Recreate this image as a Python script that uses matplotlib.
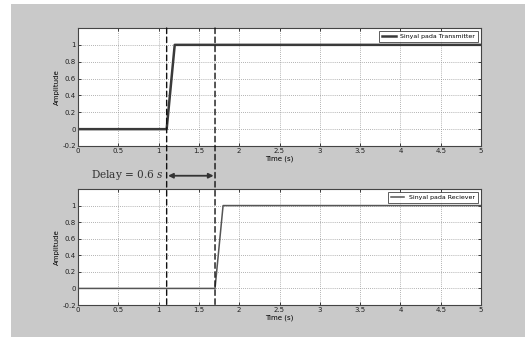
import matplotlib.pyplot as plt
from matplotlib.patches import Rectangle, ConnectionPatch

# step signals (time in s, amplitude)
t_tx = [0, 1.1, 1.2, 5]
amp_tx = [0, 0, 1, 1]
t_rx = [0, 1.7, 1.8, 5]
amp_rx = [0, 0, 1, 1]
delay_marks = [1.1, 1.7]
delay_value = 0.6

xticks = [0, 0.5, 1, 1.5, 2, 2.5, 3, 3.5, 4, 4.5, 5]
xtick_labels = ['0', '0.5', '1', '1.5', '2', '2.5', '3', '3.5', '4', '4.5', '5']
yticks = [-0.2, 0, 0.2, 0.4, 0.6, 0.8, 1]
ytick_labels = ['-0.2', '0', '0.2', '0.4', '0.6', '0.8', '1']

plt.rcParams['mathtext.fontset'] = 'dejavuserif'

fig = plt.figure(figsize=(5.25, 3.38), dpi=100)
fig.patch.set_facecolor('white')
fig.add_artist(Rectangle((11 / 525, 1 / 338), 1 - 11 / 525, 333 / 338,
                         transform=fig.transFigure, facecolor='#c9c9c9',
                         edgecolor='none', zorder=0))

ax1 = fig.add_axes([78 / 525, 192 / 338, 403 / 525, 118 / 338])
ax2 = fig.add_axes([78 / 525, 33 / 338, 403 / 525, 116 / 338])


def style_axes(ax):
    ax.set_xlim(0, 5)
    ax.set_ylim(-0.2, 1.2)
    ax.set_xticks(xticks)
    ax.set_xticklabels(xtick_labels)
    ax.set_yticks(yticks)
    ax.set_yticklabels(ytick_labels)
    ax.tick_params(direction='in', length=2.5, width=0.6, labelsize=5,
                   top=True, right=True, pad=1.5, colors='#222222')
    ax.grid(True, linestyle=(0, (1, 1.5)), color='#999999', linewidth=0.6)
    for s in ax.spines.values():
        s.set_color('#444444')
        s.set_linewidth(0.8)
    ax.set_xlabel('Time (s)', fontsize=5, labelpad=1)
    ax.set_ylabel('Amplitude', fontsize=5, labelpad=2)
    ax.set_facecolor('white')


ax1.plot(t_tx, amp_tx, color='#3a3a3a', linewidth=1.8, label='Sinyal pada Transmitter')
ax2.plot(t_rx, amp_rx, color='#555555', linewidth=1.1, label='Sinyal pada Reciever')
for ax in (ax1, ax2):
    style_axes(ax)
    leg = ax.legend(loc='upper right', fontsize=4.5, frameon=True, fancybox=False,
                    borderpad=0.4, handlelength=2.2, borderaxespad=0.5)
    leg.get_frame().set_edgecolor('#333333')
    leg.get_frame().set_linewidth(0.7)

# dashed markers spanning both plots
for x in delay_marks:
    con = ConnectionPatch(xyA=(x, 1.2), coordsA=ax1.transData,
                          xyB=(x, -0.2), coordsB=ax2.transData,
                          linestyle=(0, (4, 2.5)), color='#111111', linewidth=1.0,
                          zorder=5)
    fig.add_artist(con)

# delay arrow between the plots
arrow = ConnectionPatch(xyA=(delay_marks[0], 1.36), coordsA=ax2.transData,
                        xyB=(delay_marks[1], 1.36), coordsB=ax2.transData,
                        arrowstyle='<|-|>', mutation_scale=7, color='#333333',
                        linewidth=1.3, zorder=6, shrinkA=1, shrinkB=1)
fig.add_artist(arrow)
fig.text(127 / 525, 1 - 175 / 338, 'Delay = %g $\\it{s}$' % delay_value,
         fontsize=7.6, family='DejaVu Serif', ha='center', va='center',
         color='#333333')

fig.savefig('out.png', dpi=100)
